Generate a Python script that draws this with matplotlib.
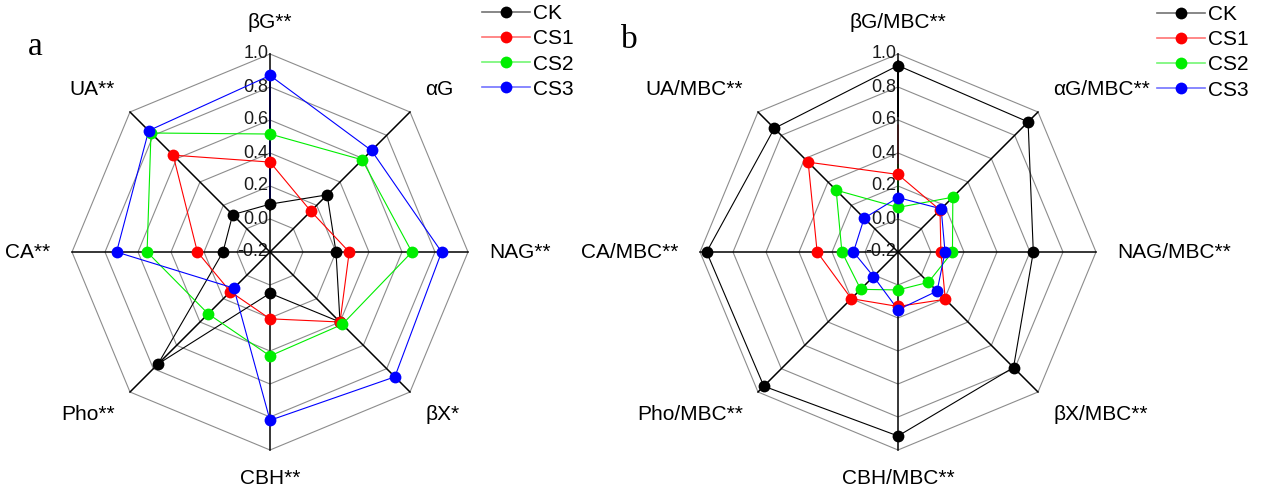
import numpy as np
import matplotlib
matplotlib.use('Agg')
import matplotlib.pyplot as plt
from matplotlib.lines import Line2D
from matplotlib.colors import to_rgba

plt.rcParams['font.family'] = ['Liberation Sans', 'DejaVu Sans']

# ── data ─────────────────────────────────────────────────────────────────────
series_names = ['CK', 'CS1', 'CS2', 'CS3']
series_colors = ['#000000', '#ff0000', '#00ee00', '#0000ff']
levels = [-0.2, 0.0, 0.2, 0.4, 0.6, 0.8, 1.0]
level_labels = ['-0.2', '0.0', '0.2', '0.4', '0.6', '0.8', '1.0']

labels_a = ['βG**', 'αG', 'NAG**', 'βX*', 'CBH**', 'Pho**', 'CA**', 'UA**']
ck_a  = [0.09, 0.29, 0.20, 0.40, 0.05, 0.76, 0.085, 0.12]
cs1_a = [0.345, 0.15, 0.28, 0.40, 0.205, 0.14, 0.24, 0.63]
cs2_a = [0.515, 0.59, 0.66, 0.42, 0.43, 0.33, 0.545, 0.82]
cs3_a = [0.87, 0.67, 0.84, 0.87, 0.82, 0.11, 0.73, 0.84]

labels_b = ['βG/MBC**', 'αG/MBC**', 'NAG/MBC**', 'βX/MBC**',
            'CBH/MBC**', 'Pho/MBC**', 'CA/MBC**', 'UA/MBC**']
ck_b  = [0.93, 0.915, 0.62, 0.79, 0.915, 0.95, 0.96, 0.86]
cs1_b = [0.27, 0.16, 0.06, 0.205, 0.13, 0.20, 0.29, 0.57]
cs2_b = [0.07, 0.27, 0.13, 0.06, 0.03, 0.12, 0.14, 0.33]
cs3_b = [0.13, 0.17, 0.085, 0.135, 0.15, 0.01, 0.07, 0.09]

W, H = 1264, 491
PX = 165.0          # pixels per radial unit
RMIN = levels[0]


def radar(ax, labels, data, legend_xy):
    n = len(labels)
    theta = np.deg2rad(90 - 360.0 / n * np.arange(n))
    c, s = np.cos(theta), np.sin(theta)
    c[np.abs(c) < 1e-9] = 0.0
    s[np.abs(s) < 1e-9] = 0.0
    rmax = levels[-1] - RMIN

    # octagon rings
    for lv in levels[1:]:
        r = lv - RMIN
        ax.plot(np.append(r * c, r * c[0]), np.append(r * s, r * s[0]),
                color='0.55', lw=0.8, zorder=1)
    # spokes (on top of the series lines, below the markers)
    for i in range(n):
        ax.plot([0, rmax * c[i]], [0, rmax * s[i]], color='k', lw=1.1, zorder=5)

    # tick labels on the vertical axis
    for lv, txt in zip(levels, level_labels):
        ax.text(-0.01, lv - RMIN, txt, ha='right', va='center',
                fontsize=13, color='0.1', zorder=3)

    # axis labels
    for i, lab in enumerate(labels):
        if c[i] == 0:
            ha = 'center'
        elif c[i] > 0:
            ha = 'left'
        else:
            ha = 'right'
        y = 1.39 * s[i] if s[i] > -0.9 else 1.37 * s[i]
        ax.text(1.33 * c[i], y, lab, ha=ha, va='center', fontsize=15)

    handles = []
    for k, (vals, name, col) in enumerate(zip(data, series_names, series_colors)):
        r = np.array(vals) - RMIN
        xs, ys = np.append(r * c, r * c[0]), np.append(r * s, r * s[0])
        ax.plot(xs, ys, color=col, lw=0.8, zorder=4)
        ax.plot(r * c, r * s, ls='none', marker='o', markersize=8.5,
                markeredgewidth=0, color=col, zorder=6 + k)
        handles.append(Line2D([], [], color=to_rgba(col, 0.55), lw=1.2,
                              marker='o', markersize=8.5, markeredgewidth=0,
                              markerfacecolor=col, label=name))

    ax.legend(handles=handles, loc='upper left', frameon=False,
              fontsize=15, bbox_to_anchor=legend_xy,
              bbox_transform=ax.figure.transFigure,
              borderpad=0, borderaxespad=0, handlelength=2.3,
              handletextpad=0.15, labelspacing=0.30)

    ax.set_xlim(-270 / PX, 270 / PX)
    ax.set_ylim(-(H - 252) / PX, 252 / PX)
    ax.axis('off')


fig = plt.figure(figsize=(W / 100, H / 100), dpi=100)
ax_a = fig.add_axes([0, 0, 540 / W, 1])
ax_b = fig.add_axes([628 / W, 0, 540 / W, 1])

radar(ax_a, labels_a, [ck_a, cs1_a, cs2_a, cs3_a], (482 / W, 1 - 4 / H))
radar(ax_b, labels_b, [ck_b, cs1_b, cs2_b, cs3_b], (1157 / W, 1 - 5 / H))

fig.text(28 / W, 1 - 47 / H, 'a', fontsize=24, family='Liberation Serif',
         ha='left', va='center')
fig.text(621 / W, 1 - 40 / H, 'b', fontsize=24, family='Liberation Serif',
         ha='left', va='center')

fig.savefig('out.png', dpi=100)
